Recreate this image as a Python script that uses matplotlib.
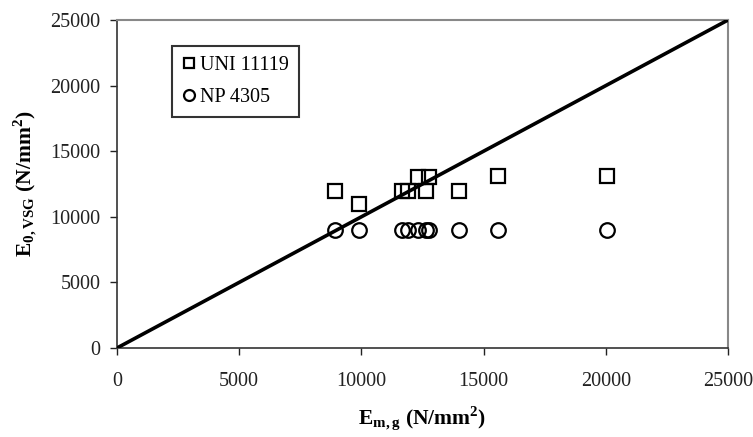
import numpy as np
import matplotlib
matplotlib.use('Agg')
from matplotlib import pyplot as plt

plt.rcParams['font.family'] = ['Liberation Serif', 'DejaVu Serif']
plt.rcParams['mathtext.fontset'] = 'custom'
plt.rcParams['mathtext.rm'] = 'Liberation Serif'
plt.rcParams['mathtext.bf'] = 'Liberation Serif:bold'

# measured values (N/mm2)
em_g = [8900, 9900, 11650, 11900, 12300, 12650, 12750, 14000, 15600, 20050]
uni_11119 = [12000, 11000, 12000, 12000, 13000, 12000, 13000, 12000, 13100, 13100]
np_4305 = [9000, 9000, 9000, 9000, 9000, 9000, 9000, 9000, 9000, 9000]
line_xy = [0, 25000]
ticks = [0, 5000, 10000, 15000, 20000, 25000]

fig = plt.figure(figsize=(7.53, 4.37), dpi=100)
ax = fig.add_axes([0.1554, 0.2037, 0.8115, 0.7506])

ax.plot(line_xy, line_xy, color='#c00000', linewidth=1.0, zorder=2)
ax.plot(line_xy, line_xy, color='black', linewidth=2.6, zorder=3)
ax.plot(em_g, uni_11119, 's', markersize=10.5, markerfacecolor='none',
        markeredgecolor='black', markeredgewidth=1.6, label='UNI 11119', zorder=4)
ax.plot(em_g, np_4305, 'o', markersize=10.5, markerfacecolor='none',
        markeredgecolor='black', markeredgewidth=1.6, label='NP 4305', zorder=4)

ax.set_xlim(0, 25000)
ax.set_ylim(0, 25000)
ax.set_xticks(ticks)
ax.set_yticks(ticks)
ax.tick_params(direction='out', length=5, width=1, labelsize=14.5, pad=7,
               colors='#222222')
ax.tick_params(axis='x', pad=12)
for s in ['top', 'right']:
    ax.spines[s].set_color('#888888')
    ax.spines[s].set_linewidth(1.5)
for s in ['left', 'bottom']:
    ax.spines[s].set_color('#333333')
    ax.spines[s].set_linewidth(1.2)

ax.set_xlabel(r'$\mathbf{E_{m,g}}$ (N/mm$^\mathbf{2}$)', fontsize=15.5,
              fontweight='bold', labelpad=10)
ax.set_ylabel(r'$\mathbf{E_{0,VSG}}$ (N/mm$^\mathbf{2}$)', fontsize=15.5,
              fontweight='bold', labelpad=8)

leg = ax.legend(loc='upper left', bbox_to_anchor=(0.09, 0.921), fontsize=14.5,
                frameon=True, fancybox=False, handlelength=0.7,
                handletextpad=0.2, borderpad=0.5, labelspacing=0.62,
                markerscale=0.75, borderaxespad=0)
leg.get_frame().set_edgecolor('black')
leg.get_frame().set_linewidth(1.5)

plt.savefig('out.png', dpi=100)
